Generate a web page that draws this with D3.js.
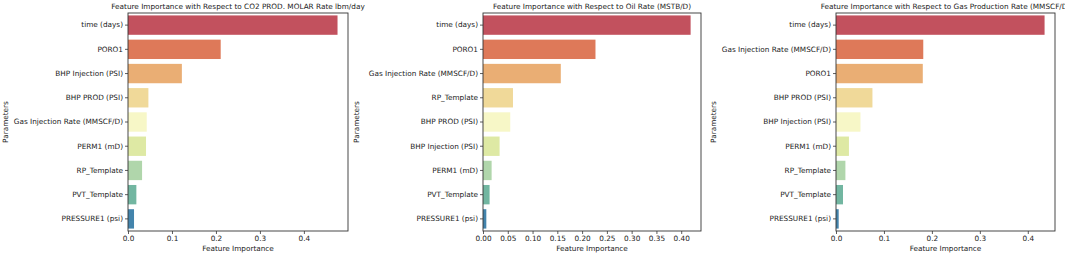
<!DOCTYPE html>
<html>
<head>
<meta charset="utf-8">
<script src="https://cdn.jsdelivr.net/npm/d3@7"></script>
<style>
  body { margin: 0; background: white; }
  text { font-family: "DejaVu Sans", sans-serif; fill: #222; }
</style>
</head>
<body>
<div id="container"></div>
<script>
/* CONSTANTS AND GLOBALS */
const width = 1065;
const height = 256;

/* DATA */
const titles = [
  "Feature Importance with Respect to CO2 PROD. MOLAR Rate lbm/day",
  "Feature Importance with Respect to Oil Rate (MSTB/D)",
  "Feature Importance with Respect to Gas Production Rate (MMSCF/D)"
];

const params1 = ["time (days)", "PORO1", "BHP Injection (PSI)", "BHP PROD (PSI)",
  "Gas Injection Rate (MMSCF/D)", "PERM1 (mD)", "RP_Template", "PVT_Template", "PRESSURE1 (psi)"];
const values1 = [0.4765, 0.2108, 0.1225, 0.0464, 0.0426, 0.0410, 0.0320, 0.0190, 0.0137];

const params2 = ["time (days)", "PORO1", "Gas Injection Rate (MMSCF/D)", "RP_Template",
  "BHP PROD (PSI)", "BHP Injection (PSI)", "PERM1 (mD)", "PVT_Template", "PRESSURE1 (psi)"];
const values2 = [0.419, 0.227, 0.157, 0.0605, 0.055, 0.0335, 0.0174, 0.0133, 0.0067];

const params3 = ["time (days)", "Gas Injection Rate (MMSCF/D)", "PORO1", "BHP PROD (PSI)",
  "BHP Injection (PSI)", "PERM1 (mD)", "RP_Template", "PVT_Template", "PRESSURE1 (psi)"];
const values3 = [0.435, 0.182, 0.181, 0.076, 0.051, 0.027, 0.0196, 0.0146, 0.0056];

const ticks1 = [0, 0.1, 0.2, 0.3, 0.4];
const ticks2 = [0, 0.05, 0.10, 0.15, 0.20, 0.25, 0.30, 0.35, 0.40];
const ticks3 = [0, 0.1, 0.2, 0.3, 0.4];

// seaborn "Spectral" 9 colours, desaturated 0.75 like barplot does
const palette = d3.schemeSpectral[11].slice(1, 10).map(c => {
  const h = d3.hsl(c);
  h.s *= 0.75;
  return h.formatHex();
});

const fontSize = "7.3px";

const panels = [
  { title: titles[0], params: params1, values: values1, ticks: ticks1, fmt: ".1f", x0: 128, x1: 348, labelX: 7.5 },
  { title: titles[1], params: params2, values: values2, ticks: ticks2, fmt: ".2f", x0: 483, x1: 701, labelX: 359 },
  { title: titles[2], params: params3, values: values3, ticks: ticks3, fmt: ".1f", x0: 836, x1: 1055, labelX: 715.5 }
];

const plotTop = 13, plotBottom = 231;

const svg = d3.select("#container")
  .append("svg")
  .attr("width", width)
  .attr("height", height)
  .style("background-color", "white");

panels.forEach(p => {
  const data = p.params.map((d, i) => ({ param: d, value: p.values[i] }));

  /* SCALES */
  const xScale = d3.scaleLinear()
    .domain([0, d3.max(p.values) * 1.05])
    .range([p.x0, p.x1]);

  const yScale = d3.scaleBand()
    .domain(p.params)
    .range([plotTop, plotBottom])
    .paddingInner(0.2)
    .paddingOuter(0.1);

  const g = svg.append("g");

  g.selectAll(".bar")
    .data(data)
    .join("rect")
    .attr("class", "bar")
    .attr("x", xScale(0))
    .attr("y", d => yScale(d.param))
    .attr("width", d => xScale(d.value) - xScale(0))
    .attr("height", yScale.bandwidth())
    .attr("fill", (d, i) => palette[i]);

  /* AXES */
  const xAxis = g.append("g")
    .attr("transform", `translate(0,${plotBottom})`)
    .call(d3.axisBottom(xScale).tickValues(p.ticks).tickFormat(d3.format(p.fmt)).tickSize(3).tickPadding(2));

  const yAxis = g.append("g")
    .attr("transform", `translate(${p.x0},0)`)
    .call(d3.axisLeft(yScale).tickSize(3).tickPadding(2));

  [xAxis, yAxis].forEach(a => {
    a.select(".domain").remove();
    a.selectAll("line").attr("stroke", "#333").attr("stroke-width", 0.8);
    a.selectAll("text").style("font-size", fontSize).attr("fill", "#222");
  });

  // frame
  g.append("rect")
    .attr("x", p.x0)
    .attr("y", plotTop)
    .attr("width", p.x1 - p.x0)
    .attr("height", plotBottom - plotTop)
    .attr("fill", "none")
    .attr("stroke", "#333")
    .attr("stroke-width", 0.9);

  g.append("text")
    .attr("x", (p.x0 + p.x1) / 2)
    .attr("y", 8.5)
    .attr("text-anchor", "middle")
    .style("font-size", fontSize)
    .text(p.title);

  g.append("text")
    .attr("x", (p.x0 + p.x1) / 2)
    .attr("y", 251)
    .attr("text-anchor", "middle")
    .style("font-size", fontSize)
    .text("Feature Importance");

  g.append("text")
    .attr("transform", `translate(${p.labelX},${(plotTop + plotBottom) / 2}) rotate(-90)`)
    .attr("text-anchor", "middle")
    .style("font-size", fontSize)
    .text("Parameters");
});
</script>
</body>
</html>
